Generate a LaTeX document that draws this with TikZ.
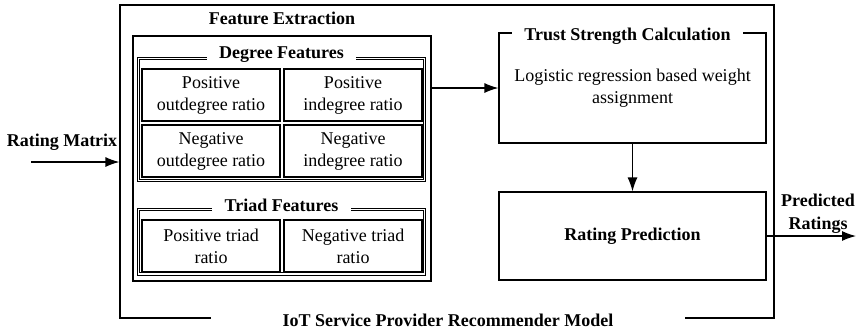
\documentclass[tikz,border=0pt]{standalone}
\usepackage{fontspec}
\setmainfont{Liberation Serif}
\usetikzlibrary{arrows.meta,calc}

\tikzset{
  box/.style={draw, line width=0.6pt, inner sep=0pt, align=center, font=\fontsize{9}{11}\selectfont},
  cell/.style={box, minimum width=69pt, minimum height=26pt},
  group/.style={draw, line width=0.45pt, double, double distance=0.9pt, inner sep=0pt, minimum width=143pt},
  title/.style={fill=white, inner ysep=1pt, inner xsep=6.25pt, font=\fontsize{9}{11}\selectfont\bfseries},
  lbl/.style={align=center, inner sep=0pt, font=\fontsize{9}{11.5}\selectfont\bfseries},
  arr/.style={line width=0.6pt, -{Latex[length=7pt,width=5pt]}}
}

\begin{document}
\begin{tikzpicture}[x=0.5pt,y=-0.5pt]
\useasboundingbox (0,0) rectangle (861,328);

% model frame
\node[box, minimum width=327pt, minimum height=156.5pt] (model) at (447,161.5) {};
\node[title, inner xsep=36pt] (modeltitle) at (448,320) {IoT Service Provider Recommender Model};

% feature extraction
\node[box, minimum width=149pt, minimum height=122.5pt] (feat) at (282,158.5) {};
\node[lbl] (feattitle) at (282,18) {Feature Extraction};

\node[group, minimum height=61pt] (degree) at (281.5,119.5) {};
\node[title] (degreetitle) at (281.5,55) {Degree Features};
\node[cell] (posout) at (211,95) {Positive\\outdegree ratio};
\node[cell] (posin) at (353,95) {Positive\\indegree ratio};
\node[cell] (negout) at (211,151) {Negative\\outdegree ratio};
\node[cell] (negin) at (353,151) {Negative\\indegree ratio};

\node[group, minimum height=32.25pt] (triad) at (281.5,241.75) {};
\node[title] (triadtitle) at (281.5,205) {Triad Features};
\node[cell] (postriad) at (211,246) {Positive triad\\ratio};
\node[cell] (negtriad) at (353,246) {Negative triad\\ratio};

% trust and prediction
\node[box, minimum width=133.5pt, minimum height=55pt] (trust) at (632.5,88) {Logistic regression based weight\\assignment};
\node[title] (trusttitle) at (627.5,36) {Trust Strength Calculation};
\node[box, minimum width=133.5pt, minimum height=44pt, font=\fontsize{9}{11}\selectfont\bfseries] (rate) at (632.5,236) {Rating Prediction};

% in and out
\coordinate (in) at (31,162);
\coordinate (out) at (856,236);
\node[lbl] (inlabel) at (62,142) {Rating Matrix};
\node[lbl] (outlabel) at (818,214) {Predicted\\Ratings};

\draw[arr] (in) -- (in -| model.west);
\draw[arr] (trust.west -| feat.east) -- (trust.west);
\draw[arr] (trust.south) -- (rate.north);
\draw[arr] (rate.east) -- (out);
\end{tikzpicture}
\end{document}
